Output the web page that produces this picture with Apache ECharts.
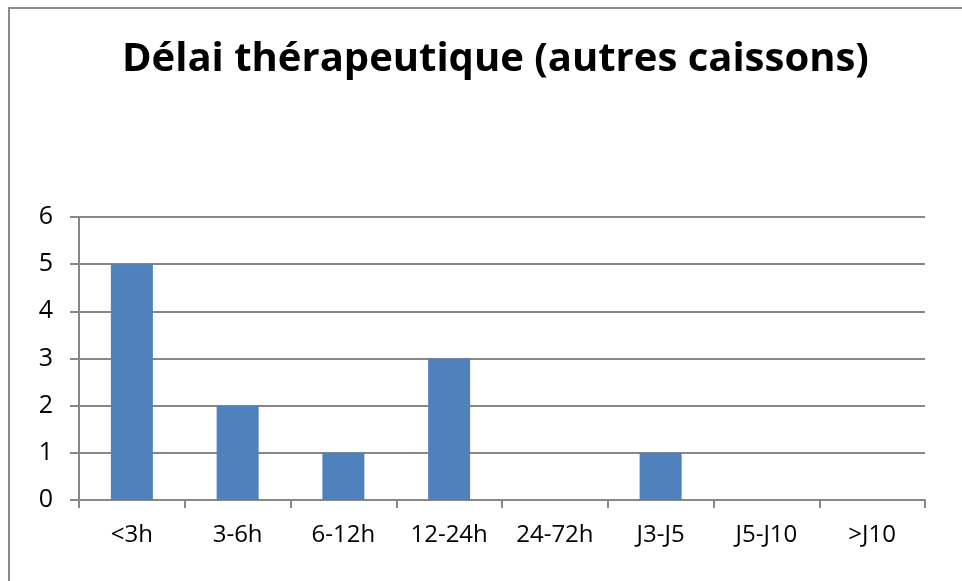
<!DOCTYPE html>
<html>
<head>
<meta charset="utf-8">
<script src="https://cdn.jsdelivr.net/npm/echarts@6/dist/echarts.min.js"></script>
<style>
  html, body { margin: 0; padding: 0; background: #fff; }
  #chart { width: 962px; height: 581px; }
  .frame {
    position: absolute; left: 8px; top: 7px; right: 0; bottom: 0;
    border-top: 2px solid #8c8c8c; border-left: 2px solid #8c8c8c;
    pointer-events: none;
  }
</style>
</head>
<body>
<div id="chart"></div>
<div class="frame"></div>
<script>
const titleText = "Délai thérapeutique (autres caissons)"
const categories = ["<3h", "3-6h", "6-12h", "12-24h", "24-72h", "J3-J5", "J5-J10", ">J10"]
const values = [5, 2, 1, 3, 0, 1, 0, 0]

const gridColor = "#878787"
const font = "Open Sans"

const chart = echarts.init(document.getElementById("chart"))
chart.setOption({
  animation: false,
  textStyle: { fontFamily: font },
  title: {
    text: titleText,
    left: 117,
    top: 35,
    textStyle: { fontFamily: font, fontSize: 40, fontWeight: "bold", color: "#000" }
  },
  grid: { left: 79, right: 37, top: 217, bottom: 81, containLabel: false },
  xAxis: {
    type: "category",
    data: categories,
    axisLine: { lineStyle: { color: gridColor, width: 2 } },
    axisTick: { show: true, length: 8, lineStyle: { color: gridColor, width: 2 } },
    axisLabel: { fontFamily: font, fontSize: 24, color: "#000", margin: 23, interval: 0 }
  },
  yAxis: {
    type: "value",
    min: 0,
    max: 6,
    interval: 1,
    axisLine: { show: true, lineStyle: { color: gridColor, width: 2 } },
    axisTick: { show: true, length: 9, inside: false, lineStyle: { color: gridColor, width: 2 } },
    axisLabel: { fontFamily: font, fontSize: 25, color: "#000", margin: 26 },
    splitLine: { lineStyle: { color: gridColor, width: 2 } }
  },
  series: [{
    type: "bar",
    data: values,
    barWidth: 42,
    itemStyle: { color: "#4F81BD" }
  }]
})
</script>
</body>
</html>
